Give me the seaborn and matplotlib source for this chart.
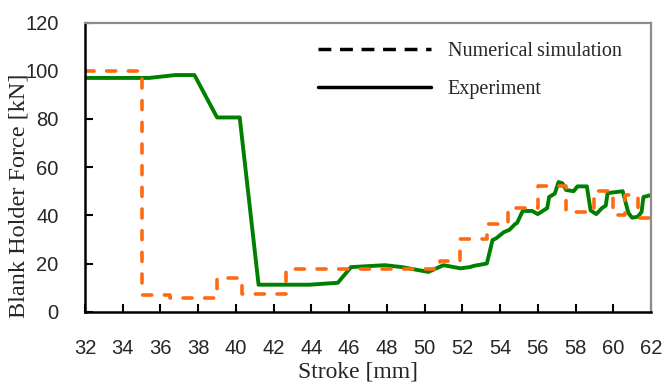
import numpy as np
import pandas as pd
import matplotlib
matplotlib.use("Agg")
import matplotlib.pyplot as plt
from matplotlib.lines import Line2D
import seaborn as sns

# Numerical simulation (step function: x points with vertical steps)
sim_x = [32, 35, 35, 36.5, 36.5, 39, 39, 40.3, 40.3, 42.65, 42.65, 50.8, 50.8,
         51.9, 51.9, 53.3, 53.3, 54.4, 54.4, 56, 56, 57.5, 57.5, 59.0, 59.0,
         60.0, 60.0, 60.6, 60.6, 61.3, 61.3, 62]
sim_y = [100, 100, 7, 7, 5.5, 5.5, 14, 14, 7.2, 7.2, 17.6, 17.6, 21,
         21, 30, 30, 36.2, 36.2, 43, 43, 52, 52, 41.5, 41.5, 50,
         50, 40, 40, 48.4, 48.4, 38.8, 38.8]

# Experiment
exp_x = [32, 35.4, 36.8, 37.8, 39.0, 40.2, 41.2, 43.9, 45.4, 46.1, 47.9, 48.8,
         50.2, 51.0, 51.9, 52.4, 52.6, 53.3, 53.6, 53.8, 54.2, 54.5, 54.8, 54.9,
         55.2, 55.7, 56.0, 56.5, 56.6, 56.9, 57.1, 57.3, 57.5, 57.9, 58.1, 58.6,
         58.8, 59.1, 59.4, 59.6, 59.7, 60.5, 60.8, 61.0, 61.3, 61.5, 61.6, 62.0]
exp_y = [97, 97, 98.2, 98.2, 80.6, 80.6, 11.2, 11.2, 12, 18.5, 19.3, 18.5,
         16.5, 19.3, 18, 18.5, 19, 20, 29.7, 30.5, 33, 34, 36.4, 36.8,
         41.8, 41.8, 40.5, 43, 47.6, 49, 53.8, 53.3, 50.5, 50, 52, 52,
         42, 40.5, 43, 44, 49.2, 50, 41, 39, 39.4, 41.4, 47.6, 48.4]

x_ticks = list(range(32, 63, 2))
y_ticks = [0, 20, 40, 60, 80, 100, 120]
series_labels = ["Numerical\u2009simulation", "Experiment"]

sns.set_style("ticks")
serif = ["Liberation Serif", "DejaVu Serif"]
sans = ["Liberation Sans", "DejaVu Sans"]

fig = plt.figure(figsize=(6.62, 3.85), dpi=100)
ax = fig.add_axes([85/662, 1-311.7/385, (651-85)/662, (311.7-22.5)/385])

sim_df = pd.DataFrame({"x": sim_x, "y": sim_y})
exp_df = pd.DataFrame({"x": exp_x, "y": exp_y})

sns.lineplot(data=exp_df, x="x", y="y", sort=False, estimator=None, ax=ax,
             color="#008000", linewidth=2.8)
sns.lineplot(data=sim_df, x="x", y="y", sort=False, estimator=None, ax=ax,
             color="#FF6A10", linewidth=2.6, dashes=False)
simline = ax.lines[-1]
simline.set_dashes([2.5, 3.5])
simline.set_dash_capstyle("round")

ax.set_xlim(32, 62)
ax.set_ylim(0, 120)
ax.set_xticks(x_ticks)
ax.set_yticks(y_ticks)
ax.set_xticklabels([str(t) for t in x_ticks], family=sans, fontsize=14.5)
ax.set_yticklabels([str(t) for t in y_ticks], family=sans, fontsize=14.5)
ax.tick_params(axis="x", direction="in", length=6, width=1.5, pad=20, color="black")
ax.tick_params(axis="y", direction="in", length=6, width=1.5, pad=19, color="black")

for s in ["left", "bottom"]:
    ax.spines[s].set_color("black")
    ax.spines[s].set_linewidth(1.8)
for s in ["top", "right"]:
    ax.spines[s].set_color("#8c8c8c")
    ax.spines[s].set_linewidth(1.6)
    ax.spines[s].set_visible(True)

ax.set_xlabel("Stroke [mm]", family=serif, fontsize=17)
ax.set_ylabel("Blank Holder Force [kN]", family=serif, fontsize=17.5)
ax.xaxis.set_label_coords((358-85)/566, -(372-311.7)/289.2)
ax.yaxis.set_label_coords(-(85-19)/566, (311.7-196)/289.2)
ax.xaxis.label.set_va("center")
ax.yaxis.label.set_va("center")

handles = [Line2D([0], [0], color="black", linewidth=2.5, dashes=[3.7, 2.5]),
           Line2D([0], [0], color="black", linewidth=2.5)]
leg = fig.legend(handles, series_labels, loc="upper left",
                 bbox_to_anchor=(318/662, 1-42/385), bbox_transform=fig.transFigure,
                 frameon=False, borderpad=0, borderaxespad=0,
                 handlelength=5.6, handletextpad=0.85, labelspacing=0.92,
                 prop={"family": serif, "size": 14.5})

fig.savefig("out.png", dpi=100)
